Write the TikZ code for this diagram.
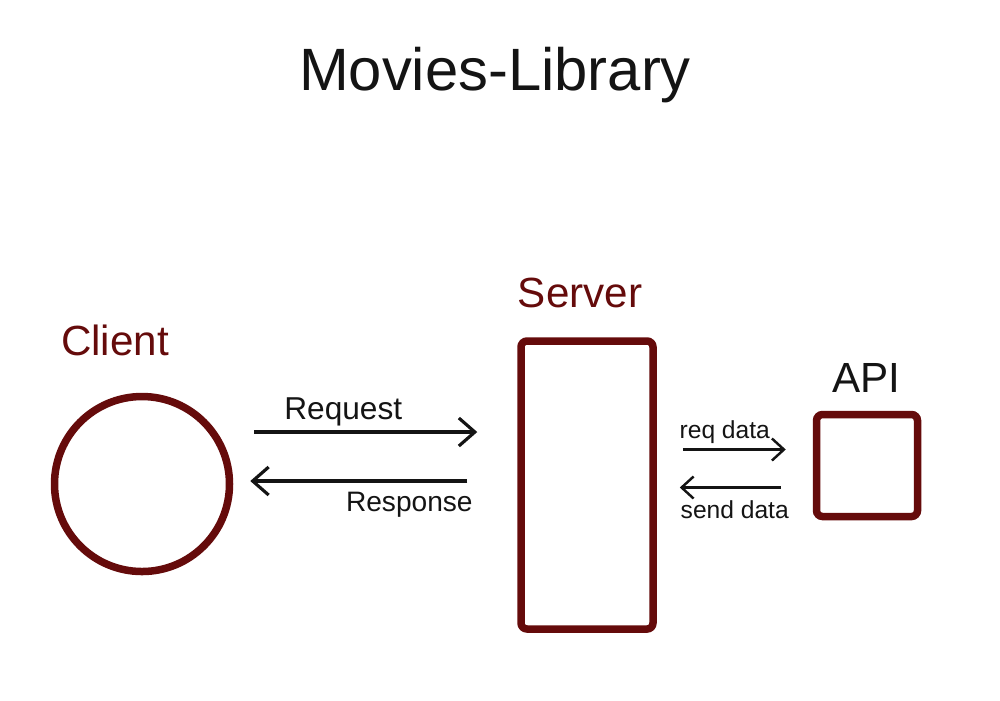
\documentclass[tikz,border=0pt]{standalone}
\usepackage{fontspec}
\setmainfont{Liberation Sans}
\usepackage{xcolor}
\usetikzlibrary{arrows.meta,positioning}
\definecolor{maroon}{HTML}{650B0B}
\definecolor{ink}{HTML}{141414}
\tikzset{
  part/.style={draw=maroon,line width=0.075cm,rounded corners=0.6mm,fill=white},
  tag/.style={text=maroon,font=\fontsize{12}{14}\selectfont},
  link/.style={-{Straight Barb[length=1.6mm,width=2.8mm]},line width=0.9pt,draw=ink},
  minor/.style={-{Straight Barb[length=1.2mm,width=2.2mm]},line width=0.7pt,draw=ink},
  note/.style={text=ink,font=\fontsize{9}{11}\selectfont,inner sep=1pt},
  small/.style={text=ink,font=\fontsize{7}{9}\selectfont,inner sep=1pt}
}
\begin{document}
\begin{tikzpicture}
\useasboundingbox (0,0) rectangle (10,7);

\node[font=\fontsize{17}{20}\selectfont,text=ink] (title) at (4.95,6.25) {Movies-Library};

\node[part,circle,minimum size=1.75cm,inner sep=0pt] (client) at (1.42,2.16) {};
\node[part,minimum width=1.32cm,minimum height=2.88cm,inner sep=0pt] (server) at (5.87,2.15) {};
\node[part,minimum width=1.01cm,minimum height=1.02cm,inner sep=0pt] (api) at (8.67,2.345) {};

\node[tag] (clientlbl) at (1.15,3.6) {Client};
\node[tag] (serverlbl) at (5.80,4.07) {Server};
\node[tag,text=ink] (apilbl) at (8.66,3.22) {API};

% client <-> server
\draw[link,shorten <=0.21cm,shorten >=0.4cm] ([yshift=5.2mm]client.east) -- ([yshift=5.2mm]client.east -| server.west) node[note,midway,above=0.1mm,xshift=-3.2mm] (req) {Request};
\draw[link,shorten <=0.5cm,shorten >=0.17cm] ([yshift=0.3mm]client.east -| server.west) -- ([yshift=0.3mm]client.east) node[small,font=\fontsize{8}{10}\selectfont,pos=0.38,below=0.6mm] (resp) {Response};

% server <-> api
\draw[minor,shorten <=0.26cm,shorten >=0.27cm] ([yshift=1.6mm]server.east |- api.west) -- ([yshift=1.6mm]api.west) node[small,midway,above=0.1mm,xshift=-1mm] (reqdata) {req data};
\draw[minor,shorten <=0.32cm,shorten >=0.23cm] ([yshift=-2.2mm]api.west) -- ([yshift=-2.2mm]server.east |- api.west) node[small,midway,below=0.8mm] (senddata) {send data};
\end{tikzpicture}
\end{document}
